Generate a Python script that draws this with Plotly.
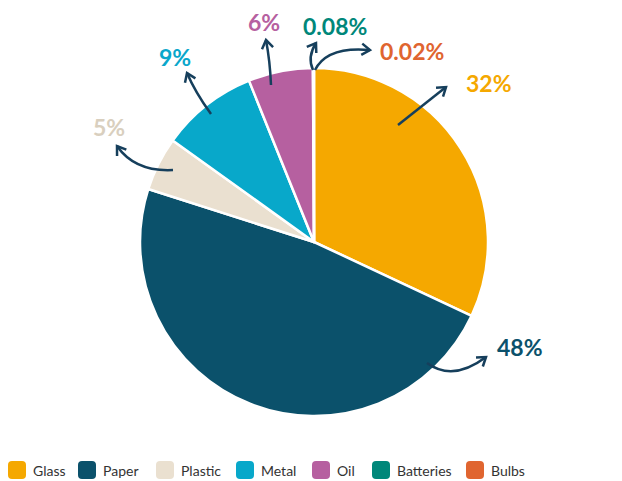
import math
import plotly.graph_objects as go

W, H = 622, 481
OFF = 8  # page body margin pushes the figure 8px right/down
FW, FH = W - OFF, H - OFF

labels = ["Glass", "Paper", "Plastic", "Metal", "Oil", "Batteries", "Bulbs"]
values = [32, 48, 5, 9, 6, 0.08, 0.02]
value_text = ["32%", "48%", "5%", "9%", "6%", "0.08%", "0.02%"]
colors = ["#F5A800", "#0B516B", "#EAE0D0", "#08A8CA", "#B660A0", "#00877A", "#E06530"]
label_colors = ["#F5A800", "#0B516B", "#D9CFBE", "#0AA7CB", "#B660A0", "#00877A", "#E06530"]

ARROW = "#163F5C"

# screen pixel -> paper coords
def px(x):
    return (x - OFF) / FW

def py(y):
    return 1 - (y - OFF) / FH

# pie geometry in screen pixels
cx, cy, r = 314, 242, 174

# label placement + curved arrow (start, control, tip) in screen pixels
label_pos = [(489, 83), (520, 347), (109, 127), (175, 57), (264, 22), (335, 26), (412, 51)]
arrows = [
    ((398, 125), (422, 106), (446, 87)),
    ((427, 363), (453, 382), (486, 357)),
    ((173, 170), (135, 172), (117, 146)),
    ((211, 114), (195, 92), (187, 73)),
    ((271, 85), (270, 61), (266, 40)),
    ((313, 70), (307, 57), (316, 43)),
    ((315, 70), (327, 46), (370, 50)),
]

fig = go.Figure()
fig.add_trace(go.Pie(
    labels=labels, values=values, sort=False, direction="clockwise", rotation=0,
    marker=dict(colors=colors, line=dict(color="white", width=2.5)),
    textinfo="none", hoverinfo="label+percent", showlegend=False,
    domain=dict(x=[px(cx - r), px(cx + r)], y=[py(cy + r), py(cy - r)]),
))

shapes = []
annotations = []
for (s, c, t) in arrows:
    path = "M %f,%f Q %f,%f %f,%f" % (px(s[0]), py(s[1]), px(c[0]), py(c[1]), px(t[0]), py(t[1]))
    shapes.append(dict(type="path", xref="paper", yref="paper", path=path,
                       line=dict(color=ARROW, width=2.5)))
    ang = math.atan2(t[1] - c[1], t[0] - c[0])
    L = 10
    a1 = (t[0] - L * math.cos(ang - 0.6), t[1] - L * math.sin(ang - 0.6))
    a2 = (t[0] - L * math.cos(ang + 0.6), t[1] - L * math.sin(ang + 0.6))
    head = "M %f,%f L %f,%f L %f,%f" % (px(a1[0]), py(a1[1]), px(t[0]), py(t[1]), px(a2[0]), py(a2[1]))
    shapes.append(dict(type="path", xref="paper", yref="paper", path=head,
                       line=dict(color=ARROW, width=2.5)))

for txt, col, (x, y) in zip(value_text, label_colors, label_pos):
    annotations.append(dict(x=px(x), y=py(y), xref="paper", yref="paper", text="<b>%s</b>" % txt,
                            showarrow=False, font=dict(family="Lato", size=23, color=col),
                            xanchor="center", yanchor="middle"))

# legend drawn by hand: rounded squares + text
legend_x = [8, 78, 156, 236, 312, 372, 466]
ly, sq, rr = 470, 18, 4
for name, col, x in zip(labels, colors, legend_x):
    x0, x1, y0, y1 = x, x + sq, ly - sq / 2, ly + sq / 2
    p = "M %f,%f L %f,%f Q %f,%f %f,%f L %f,%f Q %f,%f %f,%f L %f,%f Q %f,%f %f,%f L %f,%f Q %f,%f %f,%f Z" % (
        px(x0 + rr), py(y0), px(x1 - rr), py(y0), px(x1), py(y0), px(x1), py(y0 + rr),
        px(x1), py(y1 - rr), px(x1), py(y1), px(x1 - rr), py(y1),
        px(x0 + rr), py(y1), px(x0), py(y1), px(x0), py(y1 - rr),
        px(x0), py(y0 + rr), px(x0), py(y0), px(x0 + rr), py(y0))
    shapes.append(dict(type="path", xref="paper", yref="paper", path=p,
                       fillcolor=col, line=dict(width=0)))
    annotations.append(dict(x=px(x + sq + 5), y=py(ly), xref="paper", yref="paper", text=name,
                            showarrow=False, font=dict(family="Lato", size=14, color="#333333"),
                            xanchor="left", yanchor="middle"))

fig.update_layout(
    width=FW, height=FH, margin=dict(l=0, r=0, t=0, b=0),
    paper_bgcolor="white", plot_bgcolor="white",
    shapes=shapes, annotations=annotations, showlegend=False,
    font=dict(family="Lato"),
)

fig.write_html("out.html")
